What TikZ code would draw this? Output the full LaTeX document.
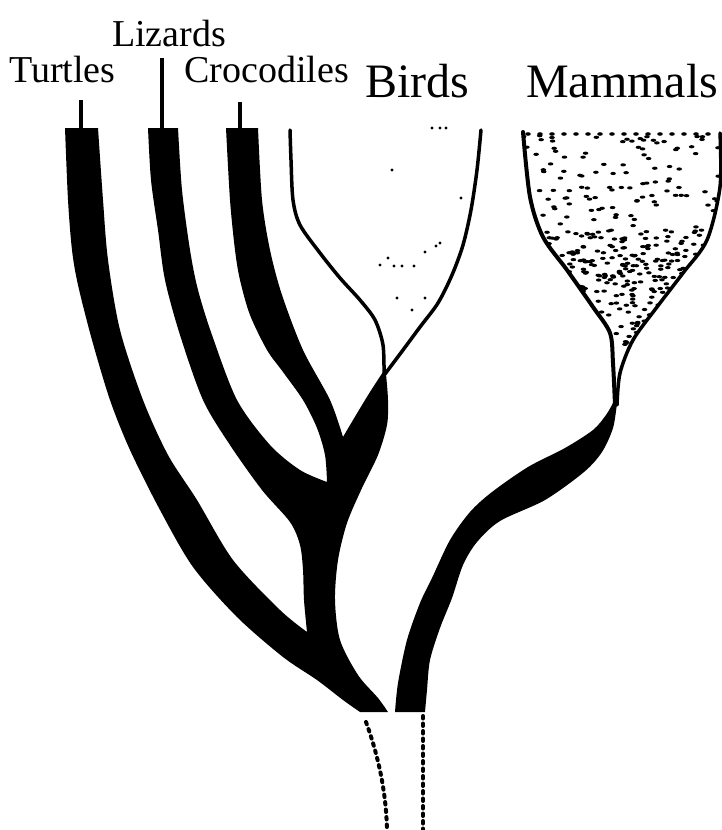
\documentclass[tikz,border=0pt]{standalone}
\usepackage{fontspec}
\setmainfont{Liberation Serif}
\usepackage{xcolor}
\usepackage{tikz}
\definecolor{tree-ink}{HTML}{000000}

\begin{document}
\begin{tikzpicture}[
			x=1pt, y=-1pt,
			taxon/.style={
				anchor=base west, inner sep=0pt,
				font=\fontsize{38}{40}\selectfont
			},
			bigtaxon/.style={taxon, font=\fontsize{48}{52}\selectfont},
			stalk/.style={draw=tree-ink, line width=3.5pt},
			branch/.style={fill=tree-ink},
			outline/.style={draw=tree-ink, line width=3.5pt, line cap=round},
			ancestry/.style={draw=tree-ink, line width=4pt, line cap=round, dash pattern=on 2.5pt off 5pt},
			speck/.style={fill=tree-ink}
			]
			\useasboundingbox (0,0) rectangle (722,830);
			% names of the groups
			\node[taxon] (turtles) at (9,82) {Turtles};
			\node[taxon] (lizards) at (112,46) {Lizards};
			\node[taxon] (crocs) at (184,82) {Crocodiles};
			\node[bigtaxon] (birds) at (365,97) {Birds};
			\node[bigtaxon] (mammals) at (526,97) {Mammals};
			\draw[stalk] (81,100) -- (81,130);
			\draw[stalk] (162,58) -- (162,130);
			\draw[stalk] (240,102) -- (240,130);
			% reptiles
			\fill[branch] (65,128) -- (98,128)
				-- plot[smooth] coordinates {(98,128) (103,200) (108,260) (120,330) (143,400) (168,455) (197,500) (233,560) (280,610) (307,632)}
				-- plot[smooth] coordinates {(307,632) (304,600) (303,570) (300,545) (290,522) (262,490) (230,445) (203,400) (180,335) (165,280) (158,230) (151,180) (148,128)}
				-- (178,128)
				-- plot[smooth] coordinates {(178,128) (182,190) (190,250) (198,290) (212,335) (237,400) (270,445) (300,470) (327,482)}
				-- plot[smooth] coordinates {(327,482) (325,455) (317,428) (303,400) (283,372) (267,350) (250,315) (240,280) (235,250) (230,200) (226,128)}
				-- (258,128)
				-- plot[smooth] coordinates {(258,128) (262,200) (270,250) (282,295) (303,350) (330,400) (343,437)}
				-- plot[smooth] coordinates {(343,437) (356,415) (370,392) (383,372)}
				-- (386,374)
				-- plot[smooth] coordinates {(386,374) (388,400) (387,425) (378,455) (362,488) (347,523) (338,560) (335,600) (340,640) (358,675) (378,698) (388,712)}
				-- (360,712)
				-- plot[smooth] coordinates {(360,712) (343,700) (317,680) (283,657) (237,617) (193,567) (160,510) (130,450) (110,400) (92,340) (78,285) (72,250) (68,200) (65,128)}
				-- cycle;
			% birds
			\draw[outline] plot[smooth] coordinates {(384,374) (383,345) (375,320) (360,300) (340,278) (320,253) (300,225) (293,200) (291,160) (290,130)};
			\draw[outline] plot[smooth] coordinates {(385,374) (403,350) (420,327) (438,303) (452,275) (463,245) (471,210) (477,170) (481,130)};
			\foreach \bx/\by in {432/128, 440/128, 446/128, 392/170, 461/198, 380/265, 388/258, 394/266, 402/266, 414/266, 425/252, 436/246, 440/243, 397/298, 425/298, 412/310}
				\fill[speck] (\bx,\by) circle (1.6);
			% mammals
			\fill[branch] plot[smooth] coordinates {(395,712) (398,683) (407,640) (420,603) (432,578) (450,540) (470,512) (492,492) (528,467) (565,448) (593,430) (606,415) (613,403)}
				-- (617,403)
				-- plot[smooth] coordinates {(617,403) (613,428) (602,452) (584,472) (545,500) (500,521) (477,542) (463,565) (452,598) (440,628) (430,660) (427,690) (425,712)}
				-- cycle;
			\begin{scope}
				\clip plot[smooth] coordinates {(615,405) (613,363) (610,333) (593,307) (567,270) (543,237) (530,197) (523,132)}
					-- plot[smooth] coordinates {(720,133) (720,187) (707,240) (683,273) (657,307) (633,340) (620,373) (617,405)}
					-- cycle;
				\pgfmathsetseed{11}
				\foreach \i in {1,...,280}{
					\pgfmathsetmacro{\sx}{520+200*rnd}
					\pgfmathsetmacro{\sy}{135+270*rnd}
					\fill[speck] (\sx,\sy) ellipse (2.8 and 1.6);
				}
				\foreach \i in {1,...,240}{
					\pgfmathsetmacro{\sx}{540+170*rnd}
					\pgfmathsetmacro{\sy}{230+110*rnd}
					\fill[speck] (\sx,\sy) ellipse (2.8 and 1.6);
				}
			\end{scope}
			\foreach \sx in {528,540,...,716}
				\fill[speck] (\sx,134) ellipse (2.8 and 1.8);
			\draw[outline, line width=4pt] plot[smooth] coordinates {(615,405) (613,363) (610,333) (593,307) (567,270) (543,237) (530,197) (523,132)};
			\draw[outline, line width=3.5pt] plot[smooth] coordinates {(720,133) (720,187) (707,240) (683,273) (657,307) (633,340) (620,373) (617,405)};
			% common stock
			\draw[ancestry] (366,722) .. controls (378,755) and (386,790) .. (387,830);
			\draw[ancestry] (423,716) -- (423,830);
		\end{tikzpicture}
\end{document}
